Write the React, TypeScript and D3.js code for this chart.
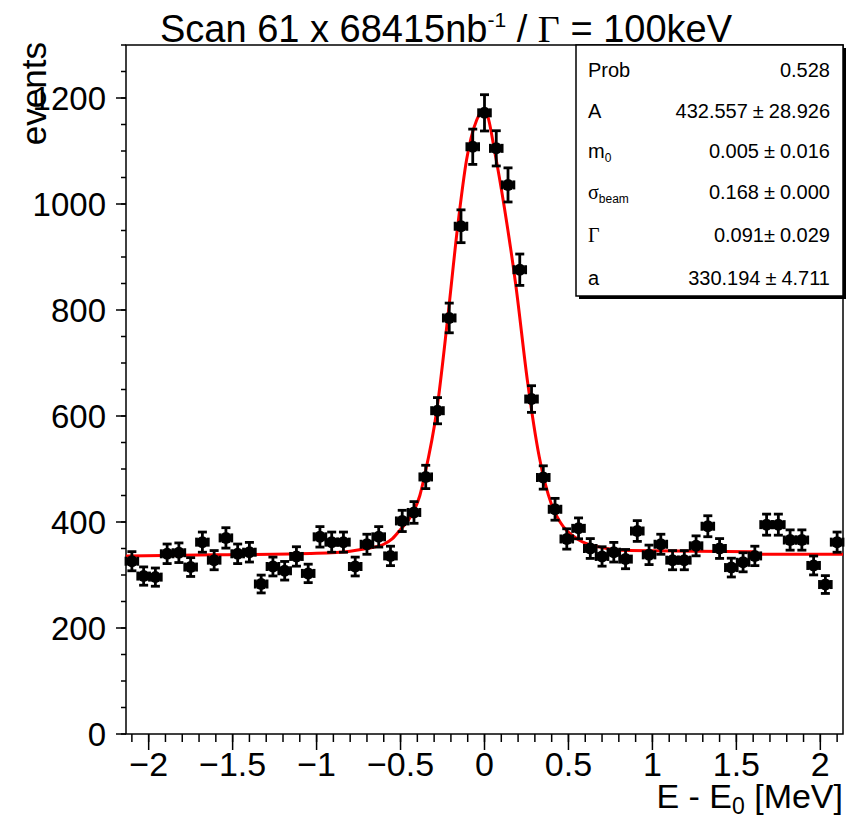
import React from "react";
import * as d3 from "d3";

// ---- data ----
const energies = [
  -2.1, -2.03, -1.96, -1.89, -1.82, -1.75, -1.68, -1.61, -1.54, -1.47, -1.4,
  -1.33, -1.26, -1.19, -1.12, -1.05, -0.98, -0.91, -0.84, -0.77, -0.7, -0.63,
  -0.56, -0.49, -0.42, -0.35, -0.28, -0.21, -0.14, -0.07, 0.0, 0.07, 0.14,
  0.21, 0.28, 0.35, 0.42, 0.49, 0.56, 0.63, 0.7, 0.77, 0.84, 0.91, 0.98, 1.05,
  1.12, 1.19, 1.26, 1.33, 1.4, 1.47, 1.54, 1.61, 1.68, 1.75, 1.82, 1.89, 1.96,
  2.03, 2.1,
];
const events = [
  326, 298, 296, 340, 342, 315, 362, 328, 370, 340, 343, 283, 316, 308, 335,
  303, 372, 362, 362, 316, 358, 372, 336, 402, 418, 485, 610, 785, 958, 1108,
  1172, 1105, 1036, 876, 632, 484, 424, 368, 388, 350, 335, 343, 330, 383, 338,
  358, 328, 328, 355, 392, 350, 314, 324, 336, 395, 395, 366, 366, 318, 282,
  362,
];
const binHalfWidth = 0.035;

const fitX = [
  -2.135, -1.6, -1.0, -0.8, -0.7, -0.6, -0.55, -0.5, -0.44, -0.385, -0.355,
  -0.284, -0.219, -0.16, -0.107, -0.047, -0.012, 0.018, 0.059, 0.118, 0.188,
  0.255, 0.326, 0.4, 0.454, 0.563, 0.68, 0.86, 1.6, 1.65, 2.135,
];
const fitY = [
  336, 338, 341, 345, 350, 358, 368, 386, 410, 450, 490, 611, 785, 957, 1083,
  1158, 1176, 1166, 1102, 994, 843, 668, 523, 432, 398, 366, 353, 346, 344,
  339, 339,
];

const xMajorTicks = [-2, -1.5, -1, -0.5, 0, 0.5, 1, 1.5, 2];
const xTickLabels = ["\u22122", "\u22121.5", "\u22121", "\u22120.5", "0", "0.5", "1", "1.5", "2"];
const yMajorTicks = [0, 200, 400, 600, 800, 1000, 1200];
const yTickLabels = ["0", "200", "400", "600", "800", "1000", "1200"];

const statLabels = ["Prob", "A", "m", "\u03c3", "\u0393", "a"];
const statSubs = ["", "", "0", "beam", "", ""];
const statValues = ["0.528", "432.557", "0.005", "0.168", "0.091", "330.194"];
const statErrors = ["", "28.926", "0.016", "0.000", "0.029", "4.711"];

// ---- layout ----
const W = 854;
const H = 820;
const L = 126, R = 843, T = 45, B = 734;
const FONT = "'Liberation Sans', Arial, Helvetica, sans-serif";
const SERIF = "'Liberation Serif', 'Times New Roman', serif";

export default function App() {
  const x = d3.scaleLinear().domain([-2.135, 2.135]).range([L, R]);
  const y = d3.scaleLinear().domain([0, 1300]).range([B, T]);

  const xMinor = d3.range(-2.1, 2.13, 0.1).map((v) => Math.round(v * 10) / 10);
  const yMinor = d3.range(0, 1301, 50);

  const line = d3
    .line<number>()
    .x((_, i) => x(fitX[i]))
    .y((d) => y(d))
    .curve(d3.curveMonotoneX);

  const capW = 4.5;
  const statRowY = [77, 118, 158, 199, 242, 285];

  return (
    <svg
      width={W}
      height={H}
      style={{ position: "absolute", left: 0, top: 0, background: "#fff" }}
      fontFamily={FONT}
    >
      <rect x={0} y={0} width={W} height={H} fill="#fff" />

      {/* Title */}
      <text x={446} y={42} fontSize={38} textAnchor="middle" fill="#000">
        Scan 61 x 68415nb
        <tspan dy={-15} fontSize={21}>-1</tspan>
        <tspan dy={15}> / </tspan>
        <tspan fontFamily={SERIF}>{"\u0393"}</tspan>
        <tspan> = 100keV</tspan>
      </text>

      {/* Frame */}
      <rect x={L} y={T} width={R - L} height={B - T} fill="none" stroke="#000" strokeWidth={1.5} />

      {/* X ticks */}
      {xMinor.map((v) => (
        <line key={"xm" + v} x1={x(v)} x2={x(v)} y1={B} y2={B + 8} stroke="#000" strokeWidth={1.5} />
      ))}
      {xMajorTicks.map((v, i) => (
        <g key={"xM" + v}>
          <line x1={x(v)} x2={x(v)} y1={B} y2={B + 16} stroke="#000" strokeWidth={1.5} />
          <text x={x(v)} y={776} fontSize={34} textAnchor="middle">
            {xTickLabels[i]}
          </text>
        </g>
      ))}

      {/* Y ticks */}
      {yMinor.map((v) => (
        <line key={"ym" + v} x1={L - 5} x2={L} y1={y(v)} y2={y(v)} stroke="#000" strokeWidth={1.5} />
      ))}
      {yMajorTicks.map((v, i) => (
        <g key={"yM" + v}>
          <line x1={L - 10} x2={L} y1={y(v)} y2={y(v)} stroke="#000" strokeWidth={1.5} />
          <text x={106} y={y(v)} dy="0.36em" fontSize={33} textAnchor="end">
            {yTickLabels[i]}
          </text>
        </g>
      ))}

      {/* Axis titles */}
      <text x={843} y={808} fontSize={34} textAnchor="end">
        E - E<tspan dy={6} fontSize={23}>0</tspan>
        <tspan dy={-6}> [MeV]</tspan>
      </text>
      <text transform={`translate(46, ${T - 3}) rotate(-90)`} fontSize={35} textAnchor="end">
        events
      </text>

      {/* Fit curve */}
      <path d={line(fitY) || ""} fill="none" stroke="#ff0000" strokeWidth={3} />

      {/* Data points */}
      {events.map((v, i) => {
        const cx = x(energies[i]);
        const cy = y(v);
        const e = Math.sqrt(v);
        const y1 = y(v + e);
        const y2 = y(v - e);
        const x1 = x(energies[i] - binHalfWidth);
        const x2 = x(energies[i] + binHalfWidth);
        return (
          <g key={"p" + i} stroke="#000" strokeWidth={2.8}>
            <line x1={cx} x2={cx} y1={y1} y2={y2} />
            <line x1={x1} x2={x2} y1={cy} y2={cy} />
            <line x1={cx - capW} x2={cx + capW} y1={y1} y2={y1} />
            <line x1={cx - capW} x2={cx + capW} y1={y2} y2={y2} />
            <line x1={x1} x2={x1} y1={cy - capW} y2={cy + capW} />
            <line x1={x2} x2={x2} y1={cy - capW} y2={cy + capW} />
            <circle cx={cx} cy={cy} r={6} fill="#000" stroke="none" />
          </g>
        );
      })}

      {/* Stats box */}
      <rect x={579} y={T + 3} width={R - 576} height={296 - T} fill="#000" />
      <rect x={576} y={T} width={R - 576} height={296 - T} fill="#fff" stroke="#000" strokeWidth={1.5} />
      {statLabels.map((lab, i) => (
        <g key={"s" + i}>
          <text
            x={588}
            y={statRowY[i]}
            fontSize={20}
            fontFamily={lab === "\u0393" || lab === "\u03c3" ? SERIF : FONT}
          >
            {lab}
            {statSubs[i] ? (
              <tspan dy={4} fontSize={12} fontFamily={FONT}>
                {statSubs[i]}
              </tspan>
            ) : null}
          </text>
          <text x={830} y={statRowY[i]} fontSize={20} textAnchor="end">
            {statValues[i]}
            {statErrors[i] ? (
              <>
                <tspan dx={i === 4 ? 0 : 5}>{"\u00b1"}</tspan>
                <tspan dx={5}>{statErrors[i]}</tspan>
              </>
            ) : null}
          </text>
        </g>
      ))}
    </svg>
  );
}
